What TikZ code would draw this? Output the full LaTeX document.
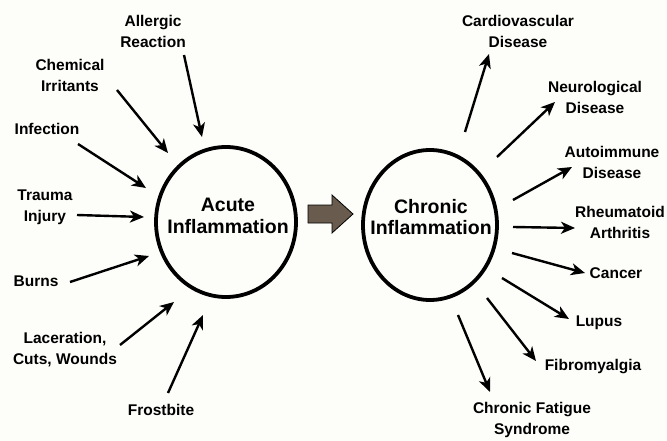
\documentclass[tikz,border=0pt]{standalone}
\usepackage{fontspec}
\setmainfont{Liberation Sans}
\usetikzlibrary{arrows.meta}
\definecolor{paper}{RGB}{253,253,249}
\definecolor{brownfill}{RGB}{105,92,78}
\tikzset{
  lbl/.style={font=\bfseries\fontsize{15.5}{21}\selectfont, align=center, inner sep=0pt},
  big/.style={font=\bfseries\fontsize{19.5}{21.5}\selectfont, align=center, inner sep=0pt},
  circ/.style={draw, line width=3.8pt},
  arr/.style={line width=2.4pt, -{Stealth[length=14pt,width=12pt,inset=4pt]}}
}
\begin{document}
\begin{tikzpicture}[x=1pt,y=-1pt]
\fill[paper] (0,0) rectangle (667,441);
\useasboundingbox (0,0) rectangle (667,441);
% circles
\draw[circ] (226,222) ellipse [x radius=70, y radius=75];
\draw[circ] (430,225) ellipse [x radius=67, y radius=75];
\node[big] (acute) at (228,216) {Acute\\Inflammation};
\node[big] (chronic) at (431,217) {Chronic\\Inflammation};
% middle block arrow
\draw[line width=0.8pt, fill=brownfill] (308,205) -- (332,205) -- (332,195) -- (353,214) -- (332,233) -- (332,223) -- (308,223) -- cycle;
% left labels
\node[lbl] (allergic) at (153,31) {Allergic\\Reaction};
\node[lbl] (chem) at (70,75) {Chemical\\Irritants};
\node[lbl] (infection) at (47,129) {Infection};
\node[lbl] (trauma) at (45,207) {Trauma\\Injury};
\node[lbl] (burns) at (36,281) {Burns};
\node[lbl] (lacer) at (65,350) {Laceration,\\Cuts, Wounds};
\node[lbl] (frost) at (161,410) {Frostbite};
% right labels
\node[lbl] (cardio) at (518,31) {Cardiovascular\\Disease};
\node[lbl] (neuro) at (595,97) {Neurological\\Disease};
\node[lbl] (auto) at (612,162) {Autoimmune\\Disease};
\node[lbl] (rheum) at (620,222) {Rheumatoid\\Arthritis};
\node[lbl] (cancer) at (616,273) {Cancer};
\node[lbl] (lupus) at (599,323) {Lupus};
\node[lbl] (fibro) at (593,367) {Fibromyalgia};
\node[lbl] (cfs) at (532,420) {Chronic Fatigue\\Syndrome};
% arrow endpoints (left)
\coordinate (a1s) at (184,55);  \coordinate (a1e) at (202,137);
\coordinate (a2s) at (117,90);  \coordinate (a2e) at (168,153);
\coordinate (a3s) at (78,144);  \coordinate (a3e) at (146,188);
\coordinate (a4s) at (77,215);  \coordinate (a4e) at (144,217);
\coordinate (a5s) at (70,282);  \coordinate (a5e) at (149,256);
\coordinate (a6s) at (120,345); \coordinate (a6e) at (174,302);
\coordinate (a7s) at (168,393); \coordinate (a7e) at (203,315);
% arrow endpoints (right)
\coordinate (b1s) at (465,132); \coordinate (b1e) at (489,54);
\coordinate (b2s) at (497,157); \coordinate (b2e) at (555,102);
\coordinate (b3s) at (513,200); \coordinate (b3e) at (572,167);
\coordinate (b4s) at (513,227); \coordinate (b4e) at (575,228);
\coordinate (b5s) at (512,253); \coordinate (b5e) at (585,273);
\coordinate (b6s) at (502,278); \coordinate (b6e) at (569,319);
\coordinate (b7s) at (487,298); \coordinate (b7e) at (536,361);
\coordinate (b8s) at (458,315); \coordinate (b8e) at (490,392);
\foreach \s/\e in {a1s/a1e,a2s/a2e,a3s/a3e,a4s/a4e,a5s/a5e,a6s/a6e,a7s/a7e,
  b1s/b1e,b2s/b2e,b3s/b3e,b4s/b4e,b5s/b5e,b6s/b6e,b7s/b7e,b8s/b8e}
  \draw[arr] (\s) -- (\e);
\end{tikzpicture}
\end{document}
